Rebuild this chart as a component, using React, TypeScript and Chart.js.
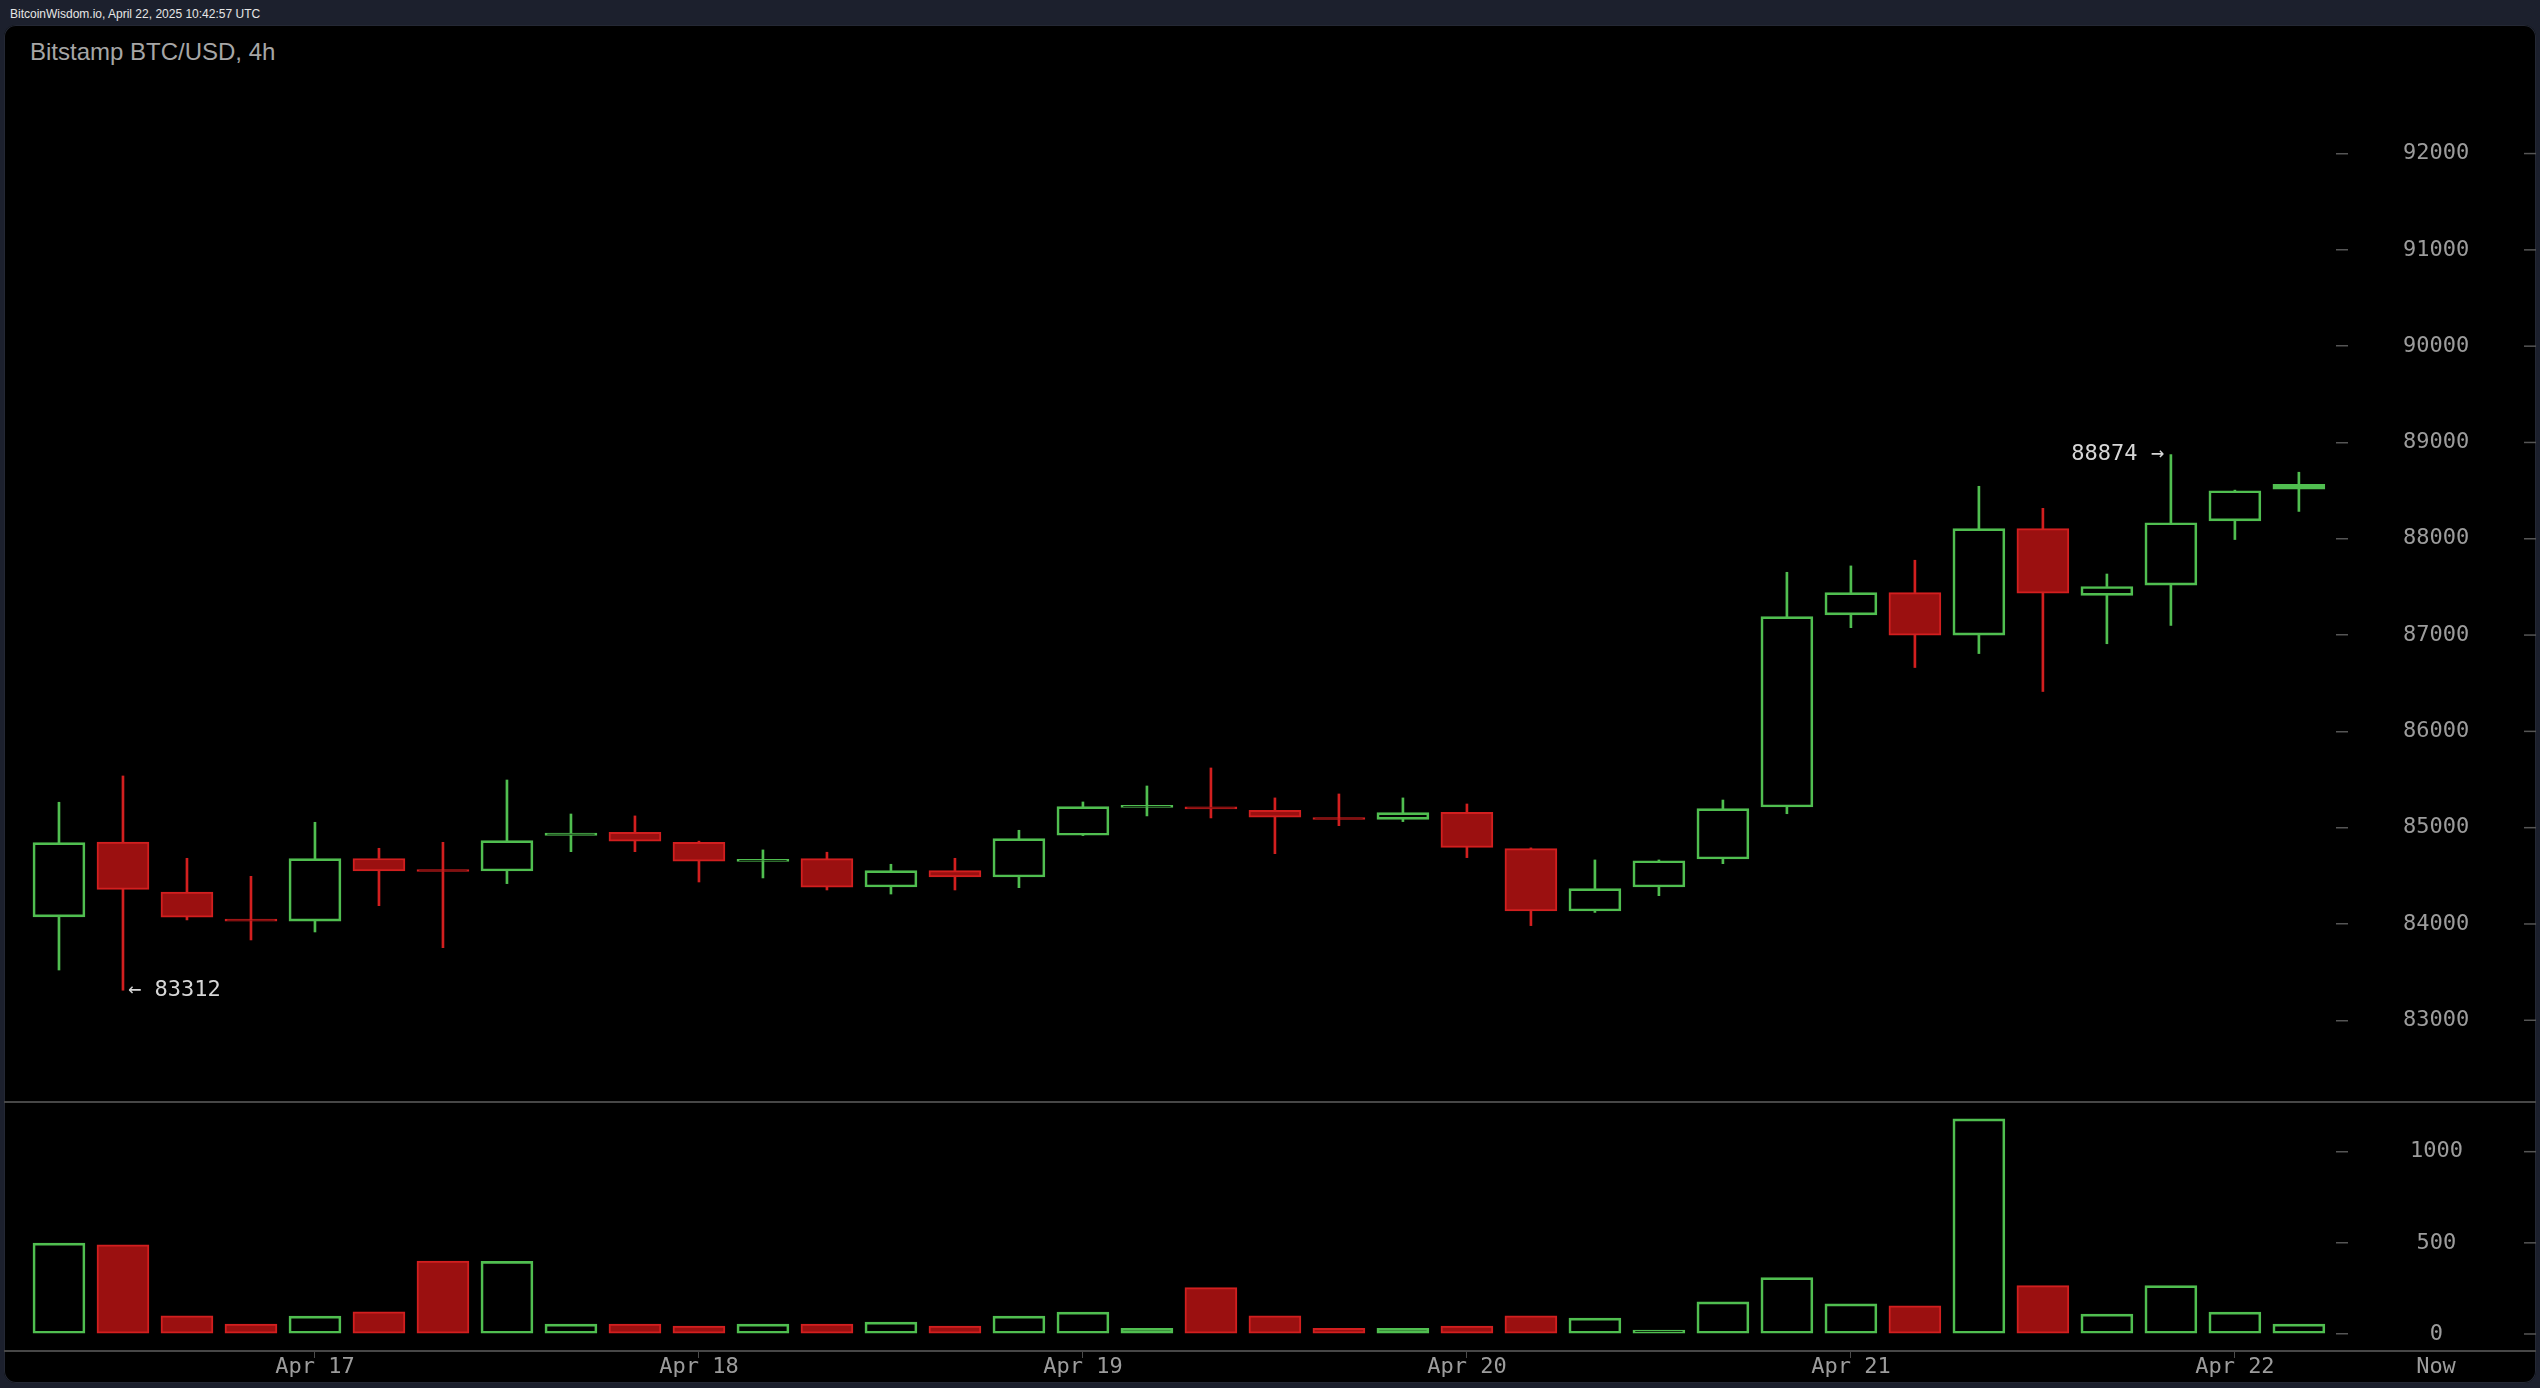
import { useEffect, useRef } from 'react';
import { Chart, registerables } from 'chart.js';

Chart.register(...registerables);

// ---- data ----
const candleTimes = [
  'Apr 16 08:00', 'Apr 16 12:00', 'Apr 16 16:00', 'Apr 16 20:00',
  'Apr 17 00:00', 'Apr 17 04:00', 'Apr 17 08:00', 'Apr 17 12:00', 'Apr 17 16:00', 'Apr 17 20:00',
  'Apr 18 00:00', 'Apr 18 04:00', 'Apr 18 08:00', 'Apr 18 12:00', 'Apr 18 16:00', 'Apr 18 20:00',
  'Apr 19 00:00', 'Apr 19 04:00', 'Apr 19 08:00', 'Apr 19 12:00', 'Apr 19 16:00', 'Apr 19 20:00',
  'Apr 20 00:00', 'Apr 20 04:00', 'Apr 20 08:00', 'Apr 20 12:00', 'Apr 20 16:00', 'Apr 20 20:00',
  'Apr 21 00:00', 'Apr 21 04:00', 'Apr 21 08:00', 'Apr 21 12:00', 'Apr 21 16:00', 'Apr 21 20:00',
  'Apr 22 00:00', 'Apr 22 04:00',
];
const opens = [
  84073, 84850, 84330, 84040, 84030, 84680, 84555, 84550, 84920, 84952,
  84848, 84650, 84678, 84384, 84554, 84488, 84921, 85210, 85215, 85180,
  85095, 85087, 85160, 84782, 84135, 84384, 84675, 85215, 87209, 87441,
  87000, 88105, 87412, 87518, 88185, 88516,
];
const highs = [
  85264, 85537, 84682, 84495, 85056, 84786, 84848, 85495, 85142, 85122,
  84860, 84769, 84745, 84620, 84682, 84973, 85267, 85433, 85620, 85309,
  85350, 85309, 85246, 84790, 84665, 84665, 85287, 87652, 87718, 87777,
  88545, 88316, 87634, 88874, 88505, 88691,
];
const lows = [
  83522, 83312, 84042, 83834, 83917, 84190, 83754, 84419, 84751, 84751,
  84436, 84478, 84353, 84311, 84353, 84377, 84918, 85122, 85101, 84730,
  85021, 85063, 84689, 83983, 84120, 84294, 84626, 85145, 87077, 86663,
  86808, 86414, 86910, 87100, 87992, 88284,
];
const closes = [
  84844, 84360, 84070, 84030, 84678, 84550, 84545, 84865, 84945, 84860,
  84651, 84660, 84381, 84554, 84488, 84886, 85218, 85220, 85195, 85108,
  85085, 85156, 84796, 84135, 84367, 84657, 85197, 87191, 87441, 86998,
  88105, 87434, 87504, 88166, 88499, 88564,
];
const volumes = [
  498, 489, 100, 54, 98, 122, 400, 398, 54, 54,
  44, 54, 54, 65, 44, 98, 120, 31, 254, 100,
  31, 31, 44, 100, 87, 22, 176, 309, 165, 154,
  1180, 265, 109, 265, 120, 54,
];
const priceTicks = [83000, 84000, 85000, 86000, 87000, 88000, 89000, 90000, 91000, 92000];
const volumeTicks = [0, 500, 1000];
const nowLabel = 'Now';

// ---- axis ranges & styles ----
const X_MIN = -0.859;
const X_MAX = 35.58;
const P_MIN = 82141;
const P_MAX = 93335;
const V_MIN = -87.8;
const V_MAX = 1267;

const GREEN = '#50be50';
const RED_LINE = '#d21f1f';
const RED_FILL = '#9b1010';
const AXIS_TEXT = '#9c9c9c';
const TICK_MARK = '#555555';
const SEP_LINE = '#474747';
const MONO = '"DejaVu Sans Mono", monospace';

const dayTickIndex = candleTimes
  .map((t, i) => (t.endsWith('00:00') ? i : -1))
  .filter((i) => i >= 0);

export default function App() {
  const priceRef = useRef<HTMLCanvasElement>(null);
  const volRef = useRef<HTMLCanvasElement>(null);

  useEffect(() => {
    const idx = opens.map((_, i) => i);
    const up = idx.map((i) => closes[i] >= opens[i]);
    const lineColors = up.map((u) => (u ? GREEN : RED_LINE));
    const fillColors = up.map((u) => (u ? 'rgba(0,0,0,0)' : RED_FILL));

    const edgeTicks = (chart: any, values: number[]) => {
      const ctx = chart.ctx;
      const y = chart.scales.y;
      ctx.save();
      ctx.strokeStyle = TICK_MARK;
      ctx.lineWidth = 1.5;
      values.forEach((v) => {
        const py = y.getPixelForValue(v);
        ctx.beginPath();
        ctx.moveTo(chart.width - 16, py);
        ctx.lineTo(chart.width - 4, py);
        ctx.stroke();
      });
      ctx.restore();
    };

    const priceOverlay = {
      id: 'priceOverlay',
      afterDraw(chart: any) {
        const ctx = chart.ctx;
        const xs = chart.scales.x;
        const ys = chart.scales.y;
        edgeTicks(chart, priceTicks);
        ctx.save();
        ctx.strokeStyle = SEP_LINE;
        ctx.lineWidth = 2;
        ctx.beginPath();
        ctx.moveTo(4, chart.height - 1);
        ctx.lineTo(chart.width - 4, chart.height - 1);
        ctx.stroke();
        let iMax = 0;
        let iMin = 0;
        highs.forEach((h, i) => { if (h > highs[iMax]) iMax = i; });
        lows.forEach((l, i) => { if (l < lows[iMin]) iMin = i; });
        ctx.font = `22px ${MONO}`;
        ctx.fillStyle = '#d6d6d6';
        ctx.textBaseline = 'middle';
        ctx.textAlign = 'left';
        ctx.fillText('← ' + lows[iMin], xs.getPixelForValue(iMin) + 5, ys.getPixelForValue(lows[iMin]));
        ctx.textAlign = 'right';
        ctx.fillText(highs[iMax] + ' →', xs.getPixelForValue(iMax) - 7, ys.getPixelForValue(highs[iMax]));
        ctx.restore();
      },
    };

    const volOverlay = {
      id: 'volOverlay',
      afterDraw(chart: any) {
        const ctx = chart.ctx;
        const area = chart.chartArea;
        edgeTicks(chart, volumeTicks);
        ctx.save();
        ctx.strokeStyle = SEP_LINE;
        ctx.lineWidth = 2;
        ctx.beginPath();
        ctx.moveTo(4, area.bottom + 1);
        ctx.lineTo(chart.width - 4, area.bottom + 1);
        ctx.stroke();
        ctx.font = `22px ${MONO}`;
        ctx.fillStyle = AXIS_TEXT;
        ctx.textAlign = 'center';
        ctx.textBaseline = 'middle';
        ctx.fillText(nowLabel, area.right + 100, area.bottom + 17);
        ctx.restore();
      },
    };

    const yAxis = (ticks: number[], min: number, max: number, pad: number) => ({
      type: 'linear' as const,
      position: 'right' as const,
      min,
      max,
      afterBuildTicks: (s: any) => { s.ticks = ticks.map((v) => ({ value: v })); },
      afterFit: (s: any) => { s.width = 200; s.paddingTop = 0; s.paddingBottom = 0; },
      grid: { drawOnChartArea: false, drawTicks: true, tickLength: 12, color: TICK_MARK, lineWidth: 1.5 },
      border: { display: false },
      ticks: {
        crossAlign: 'center' as const,
        padding: pad,
        color: AXIS_TEXT,
        font: { family: MONO, size: 22 },
        callback: (v: any) => String(v),
      },
    });

    const price = new Chart(priceRef.current!, {
      type: 'bar',
      data: {
        datasets: [
          {
            label: 'upper wick',
            data: idx.map((i) => ({ x: i, y: [Math.max(opens[i], closes[i]), highs[i]] })) as any,
            backgroundColor: lineColors,
            borderWidth: 0,
            barThickness: 2,
            grouped: false,
          },
          {
            label: 'lower wick',
            data: idx.map((i) => ({ x: i, y: [lows[i], Math.min(opens[i], closes[i])] })) as any,
            backgroundColor: lineColors,
            borderWidth: 0,
            barThickness: 2,
            grouped: false,
          },
          {
            label: 'body',
            data: idx.map((i) => ({ x: i, y: [opens[i], closes[i]] })) as any,
            backgroundColor: fillColors,
            borderColor: lineColors,
            borderWidth: 2,
            borderSkipped: false,
            barThickness: 52,
            minBarLength: 2,
            grouped: false,
          },
        ],
      },
      options: {
        animation: false,
        responsive: false,
        events: [],
        layout: { autoPadding: false, padding: { left: 4, right: 4, top: 0, bottom: 0 } },
        plugins: { legend: { display: false }, tooltip: { enabled: false } },
        scales: {
          x: { type: 'linear', min: X_MIN, max: X_MAX, display: false, offset: false, grid: { offset: false } },
          y: yAxis(priceTicks, P_MIN, P_MAX, 55) as any,
        },
      },
      plugins: [priceOverlay],
    });

    const vol = new Chart(volRef.current!, {
      type: 'bar',
      data: {
        datasets: [
          {
            label: 'volume',
            data: idx.map((i) => ({ x: i, y: volumes[i] })) as any,
            backgroundColor: fillColors,
            borderColor: lineColors,
            borderWidth: 2,
            borderSkipped: false,
            barThickness: 52,
            grouped: false,
          },
        ],
      },
      options: {
        animation: false,
        responsive: false,
        events: [],
        layout: { autoPadding: false, padding: { left: 4, right: 4, top: 0, bottom: 0 } },
        plugins: { legend: { display: false }, tooltip: { enabled: false } },
        scales: {
          x: {
            type: 'linear',
            position: 'bottom',
            min: X_MIN,
            max: X_MAX,
            offset: false,
            afterBuildTicks: (s: any) => { s.ticks = dayTickIndex.map((v) => ({ value: v })); },
            afterFit: (s: any) => { s.height = 38; s.paddingLeft = 0; s.paddingRight = 0; },
            grid: { offset: false, drawOnChartArea: false, drawTicks: true, tickLength: 8, color: '#4a4a4a', lineWidth: 1 },
            border: { display: false },
            ticks: {
              autoSkip: false,
              maxRotation: 0,
              padding: -4,
              color: AXIS_TEXT,
              font: { family: MONO, size: 22 },
              callback: (v: any) => candleTimes[Math.round(Number(v))].slice(0, 6),
            },
          },
          y: yAxis(volumeTicks, V_MIN, V_MAX, 62) as any,
        },
      },
      plugins: [volOverlay],
    });

    return () => {
      price.destroy();
      vol.destroy();
    };
  }, []);

  return (
    <div style={{ position: 'absolute', left: 0, top: 0, width: 2540, height: 1388, background: '#1c202d', overflow: 'hidden' }}>
      <div style={{ position: 'absolute', left: 10, top: 8, font: '12px "Liberation Sans", Arial, sans-serif', lineHeight: '12px', color: '#e6e6e6', whiteSpace: 'nowrap' }}>
        BitcoinWisdom.io, April 22, 2025 10:42:57 UTC
      </div>
      <div style={{ position: 'absolute', left: 4, top: 25, width: 2532, height: 1358, background: '#000', borderRadius: 12, boxShadow: 'inset 0 0 0 1px #242834' }} />
      <div style={{ position: 'absolute', left: 30, top: 40, font: '24px "Liberation Sans", Arial, sans-serif', lineHeight: '24px', color: '#a6a6a6', whiteSpace: 'nowrap' }}>
        Bitstamp BTC/USD, 4h
      </div>
      <canvas ref={priceRef} width={2540} height={1078} style={{ position: 'absolute', left: 0, top: 25, width: 2540, height: 1078 }} />
      <canvas ref={volRef} width={2540} height={285} style={{ position: 'absolute', left: 0, top: 1103, width: 2540, height: 285 }} />
    </div>
  );
}
